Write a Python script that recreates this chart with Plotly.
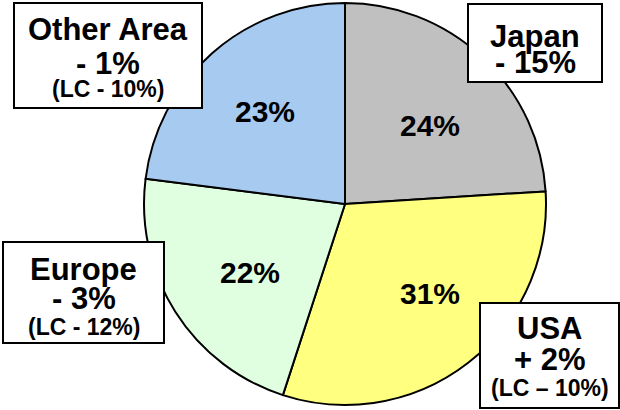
import plotly.graph_objects as go

# ---- data ----
regions = ["Japan", "USA", "Europe", "Other Area"]
shares = [24, 31, 22, 23]
changes = ["- 15%", "+ 2%", "- 3%", "- 1%"]
lc_changes = [None, "(LC \u2013 10%)", "(LC - 12%)", "(LC - 10%)"]

# ---- style ----
colors = ["#C0C0C0", "#FFFF80", "#E0FFE0", "#A6CAF0"]
FONT = "Arial, Liberation Sans, sans-serif"
W, H = 620, 410

def px(x):
    return x / W

def py(y):
    return 1 - y / H

fig = go.Figure(go.Pie(
    labels=regions, values=shares, sort=False, direction="clockwise", rotation=0,
    marker=dict(colors=colors, line=dict(color="black", width=2)),
    textinfo="none",
    domain=dict(x=[px(345 - 201), px(345 + 201)], y=[py(204 + 201), py(204 - 201)]),
    showlegend=False, hoverinfo="skip",
))

# percentage label centres (pixels), one per slice
pct_pos = {"Japan": (430, 125), "USA": (430, 293), "Europe": (250, 272), "Other Area": (265, 111)}

# label box geometry (pixels): x0, y0, x1, y1 and line centers
boxes = {
    "Japan": dict(box=(468, 4, 602, 82), cx=535, lines=[37, 62]),
    "USA": dict(box=(480, 303, 619, 408), cx=549.5, lines=[328.5, 359, 388]),
    "Europe": dict(box=(3, 242, 164, 343), cx=83.5, lines=[269, 298.5, 327]),
    "Other Area": dict(box=(14, 3, 202, 108), cx=108, lines=[30, 63.5, 89]),
}

total = sum(shares)
annotations = []
shapes = []
for name, val, chg, lc in zip(regions, shares, changes, lc_changes):
    xp, yp = pct_pos[name]
    annotations.append(dict(text=f"{round(100 * val / total)}%", x=px(xp), y=py(yp),
                            xref="paper", yref="paper", xanchor="center", yanchor="middle",
                            showarrow=False,
                            font=dict(family=FONT, size=30, color="black", weight="bold")))
    g = boxes[name]
    x0, y0, x1, y1 = g["box"]
    shapes.append(dict(type="rect", xref="paper", yref="paper", layer="above",
                       x0=px(x0), x1=px(x1), y0=py(y1), y1=py(y0),
                       fillcolor="white", line=dict(color="black", width=2)))
    texts = [(name, 31), (chg, 31)]
    if lc:
        texts.append((lc, 23))
    for (t, s), yc in zip(texts, g["lines"]):
        annotations.append(dict(text=t, x=px(g["cx"]), y=py(yc), xref="paper", yref="paper",
                                xanchor="center", yanchor="middle", showarrow=False,
                                font=dict(family=FONT, size=s, color="black", weight="bold")))

fig.update_layout(width=W, height=H, margin=dict(l=0, r=0, t=0, b=0),
                  paper_bgcolor="white", plot_bgcolor="white",
                  shapes=shapes, annotations=annotations)

fig.write_html("out.html")
